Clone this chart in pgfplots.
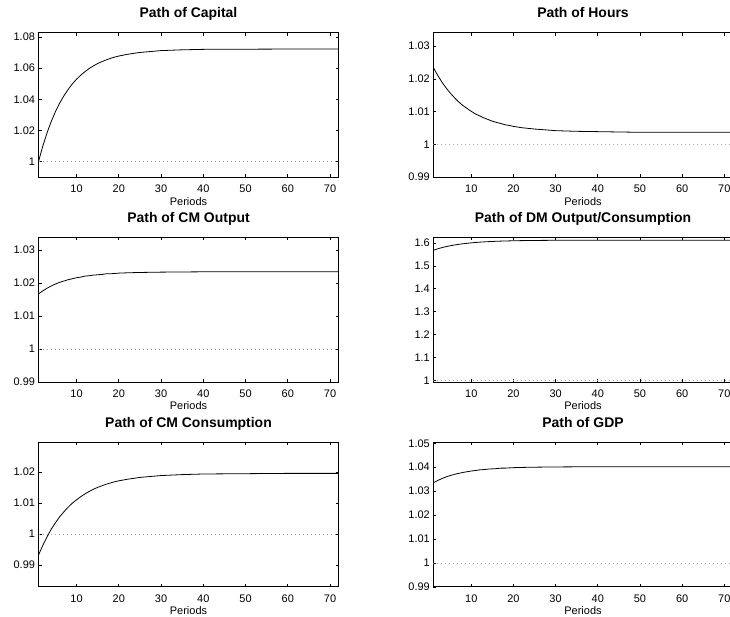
\documentclass[border=0pt]{standalone}
\usepackage{fontspec}
\setmainfont{Liberation Sans}
\usepackage{pgfplots}
\pgfplotsset{compat=1.18}
\pgfplotsset{
 mstyle/.style={
  scale only axis, width=300bp, height=144.5bp,
  xmin=1, xmax=72, xtick={10,20,...,70},
  tick align=inside, major tick length=3bp,
  axis line style={line width=0.9bp},
  tick style={black, line width=0.6bp},
  ticklabel style={font=\fontsize{11}{11}\selectfont},
  /pgf/number format/assume math mode=true,
  title style={font=\bfseries\fontsize{14}{14}\selectfont, at={(0.5,1)}, anchor=base, yshift=9bp},
  xlabel={Periods},
  xlabel style={font=\fontsize{11}{11}\selectfont, at={(axis description cs:0.5,0)}, anchor=base, yshift=-28bp},
  xticklabel style={anchor=base, yshift=-15.5bp},
 },
 curve/.style={black, line width=0.8bp},
 zero/.style={black!35, line width=0.7bp, dash pattern=on 0.8bp off 3.2bp},
}
\begin{document}
\begin{tikzpicture}
\path[use as bounding box] (0,0) rectangle (730bp,617bp);
% Row 1 left: Capital
\begin{axis}[mstyle, at={(38.5bp,439.8bp)}, anchor=south west,
  title={Path of Capital}, ymin=0.99, ymax=1.0828,
  ytick={1,1.02,1.04,1.06,1.08}, yticklabels={1,1.02,1.04,1.06,1.08}]
\addplot[zero] coordinates {(1,1) (72,1)};
\addplot[curve] coordinates {
(1,1.0000) (2,1.0098) (3,1.0183) (4,1.0257) (5,1.0320) (6,1.0375) (7,1.0422) (8,1.0463)
(9,1.0499) (10,1.0529) (11,1.0555) (12,1.0578) (13,1.0598) (14,1.0615) (15,1.0630)
(16,1.0642) (17,1.0653) (18,1.0663) (19,1.0671) (20,1.0678) (22,1.0689) (25,1.0701)
(30,1.0713) (35,1.0718) (40,1.0721) (50,1.0722) (60,1.0723) (72,1.0723)};
\end{axis}
% Row 1 right: Hours
\begin{axis}[mstyle, width=299.4bp, at={(433.3bp,439.8bp)}, anchor=south west,
  title={Path of Hours}, ymin=0.99, ymax=1.0341,
  ytick={0.99,1,1.01,1.02,1.03}, yticklabels={0.99,1,1.01,1.02,1.03}]
\addplot[zero] coordinates {(1,1) (72,1)};
\addplot[curve] coordinates {
(1,1.0235) (2,1.0212) (3,1.0191) (4,1.0173) (5,1.0157) (6,1.0143) (7,1.0130) (8,1.0119)
(9,1.0110) (10,1.0101) (11,1.0093) (12,1.0087) (13,1.0081) (14,1.0076) (15,1.0071)
(16,1.0067) (17,1.0064) (18,1.0060) (19,1.0058) (20,1.0055) (22,1.0051) (25,1.0047)
(30,1.0042) (35,1.0040) (40,1.0039) (50,1.0037) (60,1.0037) (72,1.0037)};
\end{axis}
% Row 2 left: CM Output
\begin{axis}[mstyle, at={(38.5bp,235bp)}, anchor=south west,
  title={Path of CM Output}, ymin=0.99, ymax=1.0338,
  ytick={0.99,1,1.01,1.02,1.03}, yticklabels={0.99,1,1.01,1.02,1.03}]
\addplot[zero] coordinates {(1,1) (72,1)};
\addplot[curve] coordinates {
(1,1.0167) (2,1.0176) (3,1.0184) (4,1.0191) (5,1.0197) (6,1.0202) (7,1.0206) (8,1.0210)
(9,1.0213) (10,1.0216) (11,1.0218) (12,1.0221) (13,1.0222) (14,1.0224) (15,1.0225)
(16,1.0226) (17,1.0228) (18,1.0228) (19,1.0229) (20,1.0230) (22,1.0231) (25,1.0232)
(30,1.0233) (40,1.0234) (50,1.0234) (60,1.0234) (72,1.0234)};
\end{axis}
% Row 2 right: DM Output/Consumption
\begin{axis}[mstyle, width=299.4bp, at={(433.3bp,235bp)}, anchor=south west,
  title={Path of DM Output/Consumption}, ymin=0.9926, ymax=1.6236,
  ytick={1,1.1,1.2,1.3,1.4,1.5,1.6}, yticklabels={1,1.1,1.2,1.3,1.4,1.5,1.6}]
\addplot[zero] coordinates {(1,1) (72,1)};
\addplot[curve] coordinates {
(1,1.5680) (2,1.5740) (3,1.5792) (4,1.5836) (5,1.5875) (6,1.5908) (7,1.5937) (8,1.5962)
(9,1.5983) (10,1.6002) (11,1.6018) (12,1.6032) (13,1.6044) (14,1.6054) (15,1.6063)
(16,1.6071) (17,1.6078) (18,1.6083) (19,1.6088) (20,1.6093) (22,1.6100) (25,1.6107)
(30,1.6114) (35,1.6117) (40,1.6119) (50,1.6120) (60,1.6120) (72,1.6120)};
\end{axis}
% Row 3 left: CM Consumption
\begin{axis}[mstyle, at={(38.5bp,30.2bp)}, anchor=south west,
  title={Path of CM Consumption}, ymin=0.983, ymax=1.0295,
  ytick={0.99,1,1.01,1.02}, yticklabels={0.99,1,1.01,1.02}]
\addplot[zero] coordinates {(1,1) (72,1)};
\addplot[curve] coordinates {
(1,0.9932) (2,0.9963) (3,0.9990) (4,1.0015) (5,1.0036) (6,1.0055) (7,1.0071) (8,1.0086)
(9,1.0099) (10,1.0110) (11,1.0120) (12,1.0129) (13,1.0137) (14,1.0144) (15,1.0150)
(16,1.0155) (17,1.0160) (18,1.0164) (19,1.0168) (20,1.0171) (22,1.0176) (25,1.0182)
(30,1.0188) (35,1.0191) (40,1.0193) (50,1.0194) (60,1.0195) (72,1.0195)};
\end{axis}
% Row 3 right: GDP
\begin{axis}[mstyle, width=299.4bp, at={(433.3bp,30.2bp)}, anchor=south west,
  title={Path of GDP}, ymin=0.99, ymax=1.0504,
  ytick={0.99,1,1.01,1.02,1.03,1.04,1.05}, yticklabels={0.99,1,1.01,1.02,1.03,1.04,1.05}]
\addplot[zero] coordinates {(1,1) (72,1)};
\addplot[curve] coordinates {
(1,1.0335) (2,1.0344) (3,1.0352) (4,1.0359) (5,1.0365) (6,1.0370) (7,1.0374) (8,1.0378)
(9,1.0381) (10,1.0384) (11,1.0386) (12,1.0389) (13,1.0390) (14,1.0392) (15,1.0393)
(16,1.0394) (17,1.0396) (18,1.0396) (19,1.0397) (20,1.0398) (22,1.0399) (25,1.0400)
(30,1.0401) (40,1.0402) (50,1.0402) (60,1.0402) (72,1.0402)};
\end{axis}
\end{tikzpicture}
\end{document}
